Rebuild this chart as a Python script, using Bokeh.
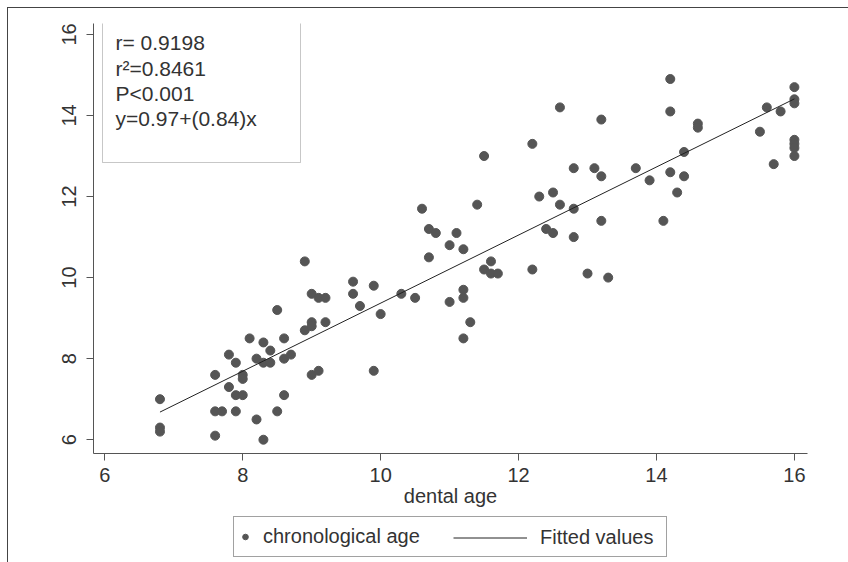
from bokeh.plotting import figure
from bokeh.layouts import column
from bokeh.models import Range1d, FixedTicker, Legend, LegendItem, BoxAnnotation, Label
from bokeh.embed import file_html
from bokeh.resources import INLINE

# ---- data ----
dental_age = [6.8, 6.8, 6.8, 7.6, 7.6, 7.7, 7.6, 7.8, 7.9, 7.8, 7.9, 8.0, 7.9, 8.0, 8.0,
              8.1, 8.2, 8.2, 8.3, 8.3, 8.3, 8.4, 8.4, 8.5, 8.5, 8.6, 8.6, 8.7, 8.6,
              8.9, 8.9, 9.0, 9.0, 9.0, 9.0, 9.1, 9.2, 9.2, 9.1,
              9.6, 9.6, 9.7, 9.9, 9.9, 10.0, 10.3, 10.5,
              10.6, 10.7, 10.8, 10.7, 11.0, 11.1, 11.2, 11.0, 11.2, 11.2, 11.2, 11.3,
              11.4, 11.5, 11.5, 11.6, 11.6, 11.7,
              12.2, 12.2, 12.3, 12.4, 12.5, 12.5, 12.6, 12.6, 12.8, 12.8, 12.8,
              13.0, 13.1, 13.2, 13.2, 13.2, 13.3, 13.7, 13.9, 14.1,
              14.2, 14.2, 14.2, 14.3, 14.4, 14.4, 14.6, 14.6,
              15.5, 15.6, 15.7, 15.8, 16.0, 16.0, 16.0, 16.0, 16.0, 16.0, 16.0]
chrono_age = [7.0, 6.3, 6.2, 7.6, 6.7, 6.7, 6.1, 8.1, 7.9, 7.3, 7.1, 7.1, 6.7, 7.6, 7.5,
              8.5, 8.0, 6.5, 8.4, 7.9, 6.0, 8.2, 7.9, 9.2, 6.7, 8.5, 8.0, 8.1, 7.1,
              10.4, 8.7, 9.6, 8.9, 8.8, 7.6, 9.5, 9.5, 8.9, 7.7,
              9.9, 9.6, 9.3, 9.8, 7.7, 9.1, 9.6, 9.5,
              11.7, 11.2, 11.1, 10.5, 10.8, 11.1, 10.7, 9.4, 9.7, 9.5, 8.5, 8.9,
              11.8, 13.0, 10.2, 10.4, 10.1, 10.1,
              13.3, 10.2, 12.0, 11.2, 12.1, 11.1, 14.2, 11.8, 12.7, 11.7, 11.0,
              10.1, 12.7, 13.9, 12.5, 11.4, 10.0, 12.7, 12.4, 11.4,
              14.9, 14.1, 12.6, 12.1, 13.1, 12.5, 13.8, 13.7,
              13.6, 14.2, 12.8, 14.1, 14.7, 14.4, 14.3, 13.4, 13.3, 13.2, 13.0]
fit_intercept = 0.97
fit_slope = 0.84
x_ticks = [6, 8, 10, 12, 14, 16]
y_ticks = [6, 8, 10, 12, 14, 16]
stats_lines = ["r= 0.9198", "r\u00b2=0.8461", "P<0.001", "y=0.97+(0.84)x"]
x_title = "dental age"
series_names = ["chronological age", "Fitted values"]

FONT = "Liberation Sans"
TXT = "#333333"
AX = "#555555"
MARK = "#555555"
FITC = "#222222"

fit_x = [min(dental_age), max(dental_age)]
fit_y = [fit_intercept + fit_slope * v for v in fit_x]

# ---------------- main plot ----------------
p = figure(width=840, height=507, output_backend="svg", toolbar_location=None,
           x_range=Range1d(5.836, 16.19), y_range=Range1d(5.66, 16.27),
           min_border_left=85, min_border_top=15, min_border_right=41, min_border_bottom=62)
p.xgrid.visible = False
p.ygrid.visible = False
p.outline_line_color = None

r1 = p.scatter(dental_age, chrono_age, size=9, marker="circle",
               fill_color=MARK, line_color=MARK)
r2 = p.line(fit_x, fit_y, line_color=FITC, line_width=1)

for ax in (p.xaxis[0], p.yaxis[0]):
    ax.axis_line_color = AX
    ax.major_tick_line_color = AX
    ax.major_tick_out = 7
    ax.major_tick_in = 0
    ax.minor_tick_line_color = None
    ax.major_label_text_font = FONT
    ax.major_label_text_font_size = "20px"
    ax.major_label_text_color = TXT

p.xaxis.ticker = FixedTicker(ticks=x_ticks)
p.yaxis.ticker = FixedTicker(ticks=y_ticks)
p.yaxis.major_label_orientation = "vertical"
p.yaxis.major_label_standoff = 10
p.xaxis.major_label_standoff = 7
p.xaxis.axis_label = x_title
p.xaxis.axis_label_text_font = FONT
p.xaxis.axis_label_text_font_size = "20px"
p.xaxis.axis_label_text_font_style = "normal"
p.xaxis.axis_label_text_color = TXT
p.xaxis.axis_label_standoff = 0

# stats box
box = BoxAnnotation(left=9, right=207, top=431, bottom=291,
                    left_units="screen", right_units="screen",
                    top_units="screen", bottom_units="screen",
                    fill_alpha=0, line_color="#444444", line_width=1)
p.add_layout(box)
line_y = [411, 385, 360, 335]
for txt, yy in zip(stats_lines, line_y):
    p.add_layout(Label(x=22, y=yy, x_units="screen", y_units="screen", text=txt,
                       text_baseline="middle", text_font=FONT, text_font_size="21px",
                       text_color=TXT))

# ---------------- legend strip ----------------
# (its frame is aligned with the main plot's frame by the column layout)
lg = figure(width=840, height=47, output_backend="svg", toolbar_location=None,
            x_axis_type=None, y_axis_type=None, x_range=Range1d(0, 1), y_range=Range1d(0, 1),
            min_border_left=0, min_border_right=0, min_border_top=0, min_border_bottom=0)
lg.xgrid.visible = False
lg.ygrid.visible = False
lg.outline_line_color = None
# same series, drawn outside this strip's visible range: only their legend glyphs show
d1 = lg.scatter(dental_age, chrono_age, marker="circle", size=9,
                fill_color=MARK, line_color=MARK)
d2 = lg.line(fit_x, fit_y, line_color=FITC, line_width=1)

leg1 = Legend(items=[LegendItem(label=series_names[0], renderers=[d1])],
              location=(140, 5), orientation="horizontal", margin=0, padding=4,
              glyph_width=14, glyph_height=31, label_height=31, label_standoff=11,
              label_width=399, label_text_font=FONT, label_text_font_size="20px",
              label_text_color=TXT, border_line_color="#444444", border_line_width=1,
              background_fill_color="white", background_fill_alpha=1)
leg2 = Legend(items=[LegendItem(label=series_names[1], renderers=[d2])],
              location=(356, 5), orientation="horizontal", margin=0, padding=4,
              glyph_width=74, glyph_height=31, label_height=31, label_standoff=13,
              label_text_font=FONT, label_text_font_size="20px",
              label_text_color=TXT, border_line_alpha=0, background_fill_alpha=0)
lg.add_layout(leg1)
lg.add_layout(leg2)

page = column(p, lg, spacing=0,
              styles={"margin-left": "7px", "margin-top": "7px",
                      "border-left": "1px solid #444444", "border-top": "1px solid #444444"})

open("out.html", "w").write(file_html(page, INLINE))
